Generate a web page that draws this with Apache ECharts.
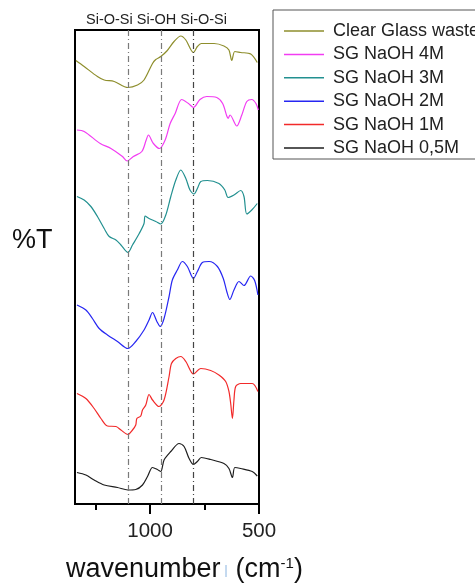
<!DOCTYPE html>
<html>
<head>
<meta charset="utf-8">
<script src="https://cdn.jsdelivr.net/npm/echarts/dist/echarts.min.js"></script>
<style>
    body { margin: 0; background: #fff; }
    #main { width: 475px; height: 584px; }
</style>
</head>
<body>
<div id="main"></div>
<script>
// spectra, curves are offset so %T has no scale
var seriesNames = ['Clear Glass waste', 'SG NaOH 4M', 'SG NaOH 3M', 'SG NaOH 2M', 'SG NaOH 1M', 'SG NaOH 0,5M'];

var glassWn = [1341, 1303, 1242, 1211, 1165, 1102, 1058, 1028, 989, 974, 951, 921, 890, 859, 836, 801, 783, 765, 706, 661, 638, 625, 611, 584, 538, 508];
var glassT = [88.7, 87.5, 85.5, 84.8, 84.5, 83.3, 83.8, 84.8, 88.1, 88.9, 89.5, 90.7, 92.5, 93.6, 92.8, 90.3, 91.5, 92.1, 92.1, 91.6, 90.8, 88.7, 90.5, 90.3, 90.0, 88.3];

var naoh4Wn = [1336, 1303, 1229, 1180, 1127, 1105, 1077, 1038, 1018, 1008, 985, 957, 931, 908, 885, 855, 824, 801, 771, 740, 694, 667, 648, 642, 633, 602, 579, 556, 533, 514, 503];
var naoh4T = [74.8, 74.5, 72.1, 71.1, 69.5, 68.6, 69.5, 70.5, 72.8, 73.8, 72.1, 71.1, 72.8, 76.1, 78.1, 80.9, 80.1, 79.3, 80.9, 81.5, 81.3, 80.1, 77.6, 77.1, 77.8, 75.6, 77.8, 80.5, 80.9, 80.1, 78.8];

var naoh3Wn = [1336, 1303, 1272, 1242, 1211, 1188, 1157, 1134, 1102, 1081, 1050, 1028, 1023, 1005, 974, 951, 928, 905, 882, 859, 836, 817, 798, 783, 767, 737, 684, 657, 642, 615, 584, 569, 556, 531, 508];
var naoh3T = [61.5, 60.8, 59.5, 57.5, 55.1, 53.5, 52.8, 51.8, 50.3, 51.8, 54.1, 56.1, 57.6, 57.1, 56.5, 56.0, 57.8, 61.5, 64.8, 66.8, 65.1, 62.8, 62.0, 63.1, 64.5, 64.7, 64.1, 62.8, 61.3, 61.8, 62.7, 61.5, 58.0, 58.9, 60.1];

var naoh2Wn = [1336, 1295, 1265, 1234, 1196, 1150, 1102, 1066, 1028, 1005, 989, 969, 954, 936, 913, 898, 875, 852, 829, 801, 783, 760, 729, 691, 664, 648, 634, 615, 592, 569, 538, 520, 505];
var naoh2T = [39.8, 38.8, 37.1, 35.1, 33.8, 32.5, 31.1, 32.5, 34.8, 36.8, 38.3, 36.5, 35.5, 37.1, 41.5, 44.8, 46.8, 48.5, 47.5, 45.1, 46.5, 48.3, 48.5, 47.5, 45.1, 42.5, 40.9, 42.8, 44.5, 43.7, 45.6, 44.7, 41.8];

var naoh1Wn = [1336, 1295, 1257, 1226, 1196, 1157, 1134, 1102, 1081, 1066, 1061, 1043, 1035, 1020, 1005, 989, 959, 936, 913, 902, 882, 859, 836, 801, 767, 722, 684, 653, 638, 630, 622, 615, 607, 584, 531, 505];
var naoh1T = [22.1, 21.1, 19.1, 17.1, 15.6, 15.5, 14.8, 13.9, 14.8, 15.8, 17.1, 17.6, 18.8, 19.8, 21.9, 20.8, 19.5, 20.8, 25.5, 28.1, 29.1, 29.5, 28.5, 26.0, 27.1, 26.7, 25.8, 24.5, 22.5, 20.1, 17.1, 20.8, 23.5, 24.1, 24.1, 22.5];

var naoh05Wn = [1336, 1295, 1257, 1211, 1150, 1102, 1066, 1035, 1012, 989, 967, 951, 936, 905, 867, 844, 821, 801, 783, 765, 722, 661, 638, 622, 611, 584, 531, 508];
var naoh05T = [6.3, 5.8, 4.8, 3.8, 3.3, 2.8, 2.9, 3.8, 5.5, 7.3, 6.9, 6.5, 8.8, 10.5, 12.1, 11.5, 9.1, 7.9, 8.5, 9.3, 8.9, 8.1, 7.1, 5.3, 7.3, 7.1, 6.5, 5.6];

var peakPositions = [1100, 950, 800];
var peakText = 'Si-O-Si Si-OH Si-O-Si';
var majorTicks = [1000, 500];
var minorTicks = [1250, 750];

var allWn = [glassWn, naoh4Wn, naoh3Wn, naoh2Wn, naoh1Wn, naoh05Wn];
var allT = [glassT, naoh4T, naoh3T, naoh2T, naoh1T, naoh05T];
var colors = ['#8e8e2c', '#f23cf2', '#229090', '#2626f2', '#f22a2a', '#1e1e1e'];
var peakColors = ['#7a7a7a', '#7a7a7a', '#444444'];

var font = '"Liberation Sans", Arial, sans-serif';

var series = [];
for (var i = 0; i < seriesNames.length; i++) {
    var d = [];
    for (var j = 0; j < allWn[i].length; j++) {
        d.push([allWn[i][j], allT[i][j]]);
    }
    series.push({
        name: seriesNames[i],
        type: 'line',
        data: d,
        symbol: 'none',
        smooth: 0.3,
        color: colors[i],
        lineStyle: { width: 1.2 },
        silent: true
    });
}

var markData = [];
for (var k = 0; k < peakPositions.length; k++) {
    markData.push({ xAxis: peakPositions[k], lineStyle: { color: peakColors[k] } });
}
series[0].markLine = {
    silent: true,
    symbol: 'none',
    label: { show: false },
    lineStyle: { type: [6, 3, 1, 3], width: 1.2 },
    data: markData
};

var option = {
    animation: false,
    grid: {
        left: 75, right: 216, top: 30, bottom: 80,
        show: true, borderColor: '#000', borderWidth: 2
    },
    legend: {
        orient: 'vertical',
        left: 279,
        top: 17,
        icon: 'rect',
        itemWidth: 40,
        itemHeight: 1.5,
        itemGap: 5.4,
        textStyle: { fontFamily: font, fontSize: 18, color: '#222', padding: [0, 0, 0, 4] },
        data: seriesNames
    },
    xAxis: [
        {
            type: 'value', min: 500, max: 1345, inverse: true,
            position: 'bottom',
            splitLine: { show: false },
            axisLine: { lineStyle: { color: '#000', width: 2 } },
            axisTick: { customValues: majorTicks, length: 10, lineStyle: { color: '#000', width: 2 } },
            axisLabel: {
                customValues: majorTicks, margin: 17, fontFamily: font, fontSize: 20.5, color: '#222',
                formatter: function (v) { return String(v); }
            }
        },
        {
            type: 'value', min: 500, max: 1345, inverse: true,
            position: 'bottom',
            splitLine: { show: false },
            axisLine: { show: false },
            axisTick: { customValues: minorTicks, length: 6, lineStyle: { color: '#000', width: 2 } },
            axisLabel: { show: false }
        }
    ],
    yAxis: { type: 'value', min: 0, max: 94.8, show: false },
    graphic: [
        {
            type: 'text', x: 86, y: 20,
            style: { text: peakText, fontFamily: font, fontSize: 14.5, fill: '#222', verticalAlign: 'middle' }
        },
        {
            type: 'text', x: 12, y: 241,
            style: { text: '%T', fontFamily: font, fontSize: 27, fill: '#111', verticalAlign: 'middle' }
        },
        {
            type: 'text', x: 66, y: 570,
            style: {
                text: '{a|wavenumber  (cm}{s|-1}{a|)}',
                verticalAlign: 'middle',
                rich: {
                    a: { fontFamily: font, fontSize: 27, fill: '#111', color: '#111' },
                    s: { fontFamily: font, fontSize: 15, fill: '#111', color: '#111', verticalAlign: 'top' }
                }
            }
        },
        {
            type: 'line',
            shape: { x1: 226, y1: 565, x2: 226, y2: 577 },
            style: { stroke: '#8ab4e0', lineWidth: 1 }
        },
        {
            type: 'rect',
            shape: { x: 273, y: 10, width: 210, height: 149 },
            style: { fill: 'none', stroke: '#555', lineWidth: 1 }
        }
    ],
    series: series
};

var myChart = echarts.init(document.getElementById('main'));
myChart.setOption(option);
</script>
</body>
</html>
